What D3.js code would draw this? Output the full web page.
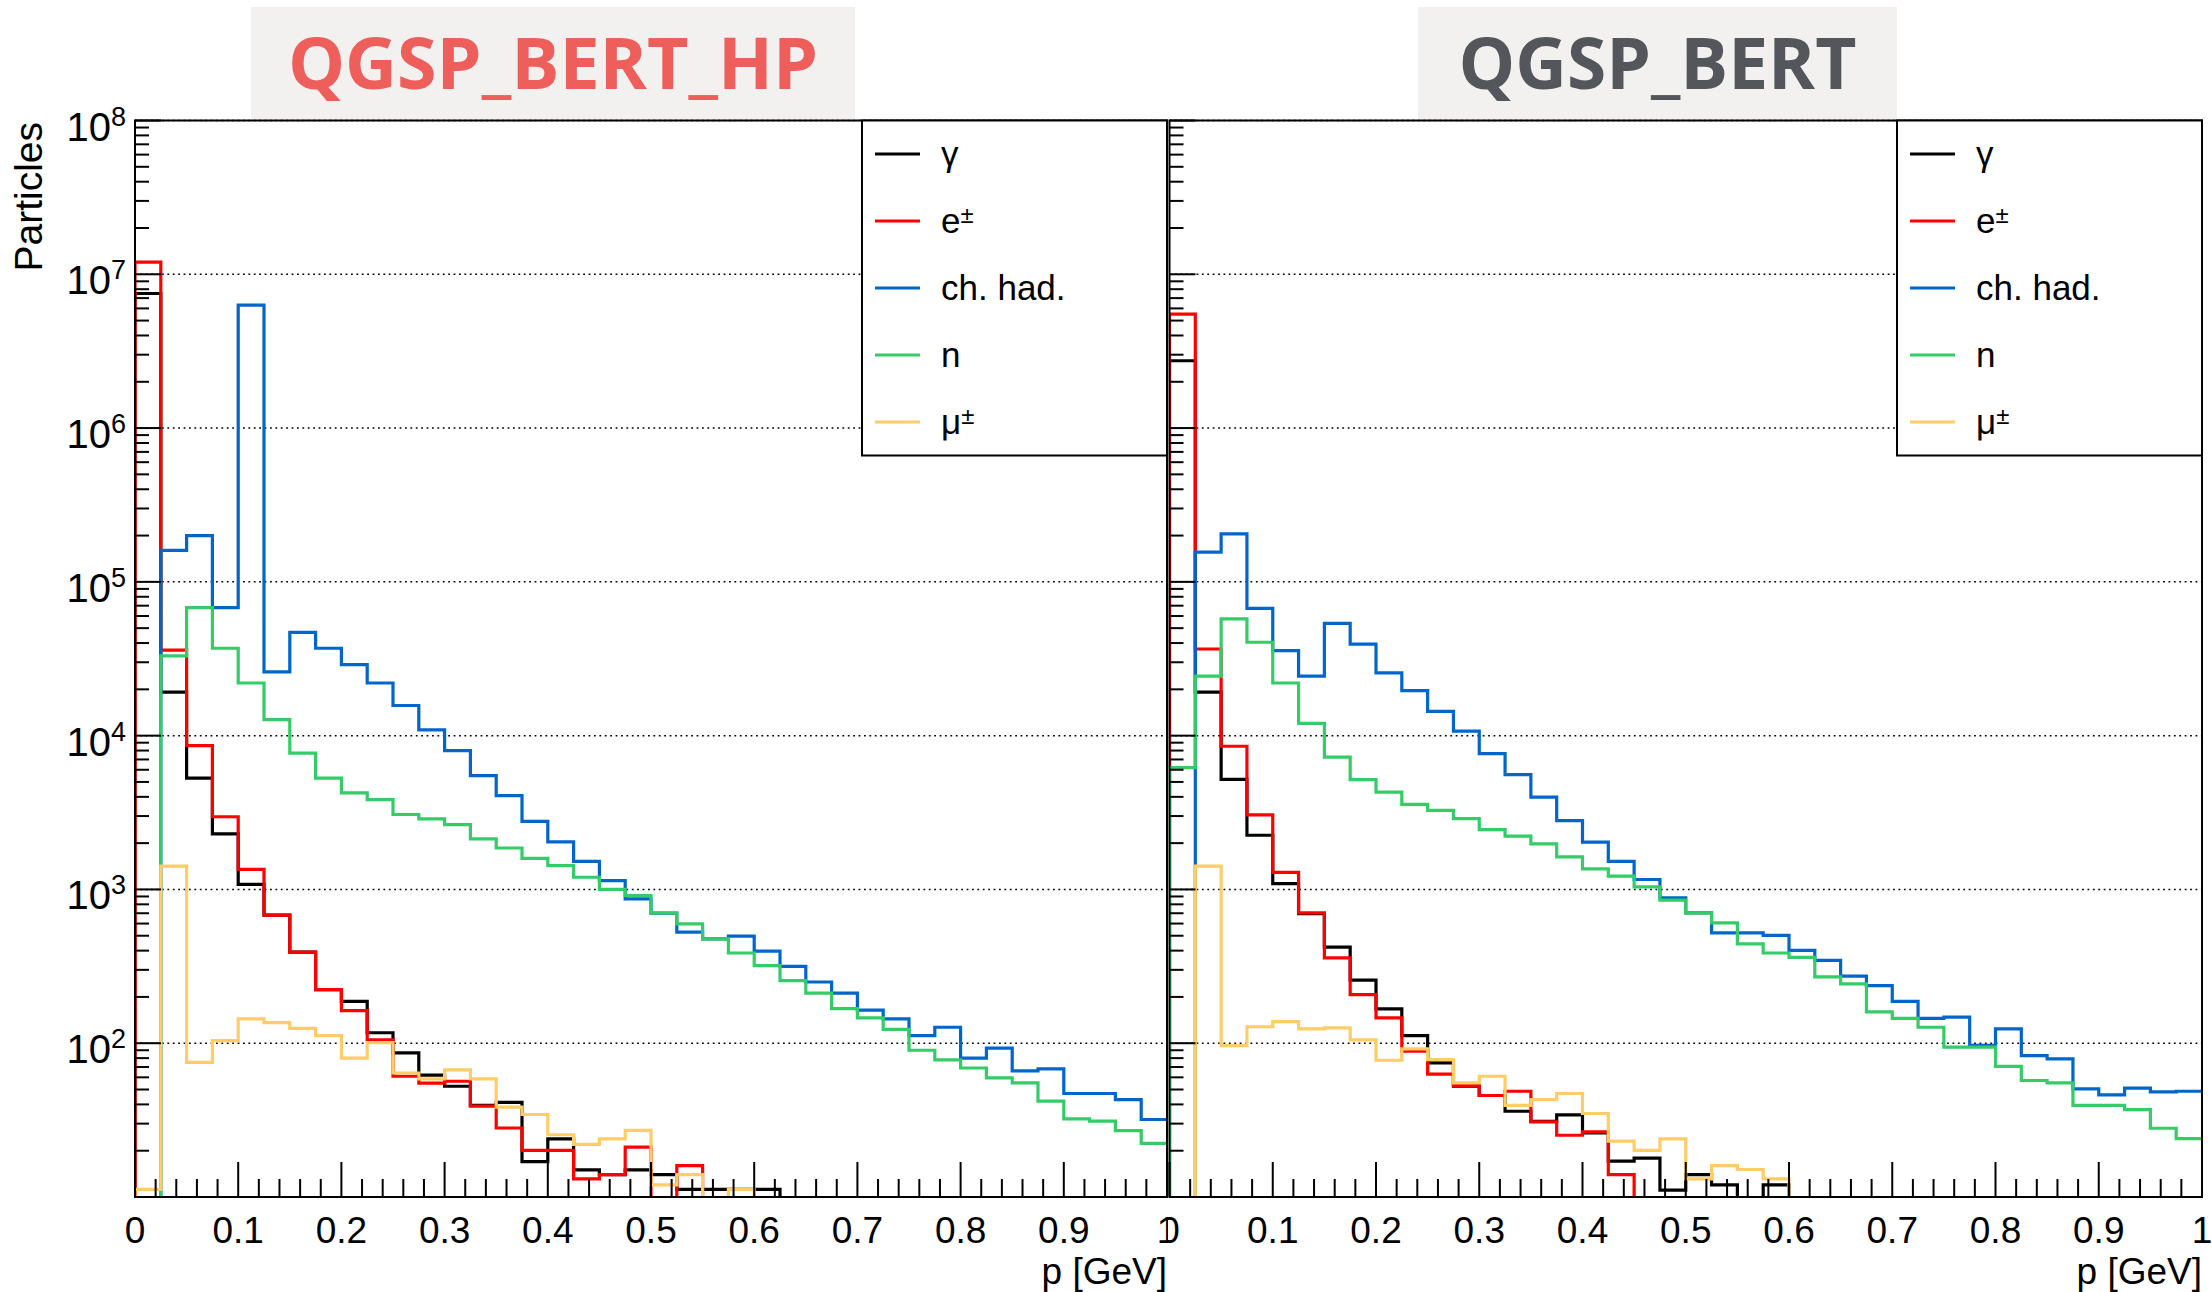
<!DOCTYPE html>
<html>
<head>
<script src="https://d3js.org/d3.v7.min.js"></script>
<style>
  body { margin: 0; background: #fff; }
  svg text { font-family: "Liberation Sans", Arial, Helvetica, sans-serif; }
</style>
</head>
<body>
<div id="container"></div>
<script>
// binning: 40 bins of 0.025 GeV from 0 to 1
var nBins = 40, pMin = 0, pMax = 1;
var yMin = 10, yMax = 1e8;

var legendBase = ["\u03b3", "e", "ch. had.", "n", "\u03bc"];
var legendSup  = ["", "\u00b1", "", "", "\u00b1"];
var seriesColors = ["#000000", "#ff0000", "#0066cc", "#33cc66", "#ffcc66"];

var xTickLabels = ["0", "0.1", "0.2", "0.3", "0.4", "0.5", "0.6", "0.7", "0.8", "0.9", "1"];
var yTickExps = [2, 3, 4, 5, 6, 7, 8];

// QGSP_BERT_HP
var hpGamma = [7.5e6, 1.92e4, 5.3e3, 2.3e3, 1.08e3, 680, 391, 223, 187, 117, 86.5, 62, 52.5, 39.4, 41.3, 17, 23.9, 15, 14, 15,
  14, 11.2, 11.2, 11.2, 11.2, 0, 0, 0, 0, 0, 0, 0, 0, 0, 0, 0, 0, 0, 0, 0];
var hpElectron = [1.2e7, 3.6e4, 8.6e3, 2.97e3, 1.35e3, 680, 391, 223, 163, 105, 61, 55, 56.6, 39, 28.1, 20.1, 20.1, 13.1, 14, 21.1,
  0, 16, 0, 0, 0, 0, 0, 0, 0, 0, 0, 0, 0, 0, 0, 0, 0, 0, 0, 0];
var hpHadron = [0, 1.6e5, 2.0e5, 6.8e4, 6.3e6, 2.6e4, 4.7e4, 3.7e4, 2.9e4, 2.2e4, 1.57e4, 1.09e4, 8.0e3, 5.5e3, 4.07e3, 2.77e3, 2.04e3, 1.52e3, 1.14e3, 868,
  700, 527, 477, 497, 397, 316, 250, 212, 164, 144, 112, 127, 80, 93, 66, 68, 47.1, 47.1, 43, 31.9];
var hpNeutron = [0, 3.3e4, 6.8e4, 3.7e4, 2.2e4, 1.27e4, 7.7e3, 5.3e3, 4.25e3, 3.84e3, 3.07e3, 2.88e3, 2.64e3, 2.13e3, 1.86e3, 1.59e3, 1.43e3, 1.2e3, 1.0e3, 912,
  703, 597, 477, 386, 320, 255, 212, 168, 146, 123, 90, 78, 69, 59.6, 55.2, 42, 32.2, 31.1, 27, 22.3];
var hpMuon = [11.2, 1416, 75, 104, 144, 136, 125, 112, 80, 101, 64, 58.6, 67, 58.6, 38.4, 34.4, 25.4, 22, 23.9, 27.1,
  12, 14, 0, 11.2, 0, 0, 0, 0, 0, 0, 0, 0, 0, 0, 0, 0, 0, 0, 0, 0];

// QGSP_BERT
var bertGamma = [2.74e6, 1.92e4, 5.2e3, 2.25e3, 1.09e3, 697, 421, 257, 167, 112, 74.5, 52.5, 45.7, 36.1, 31, 34.2, 26.1, 17.1, 17.9, 11.1,
  14, 12, 0, 12, 0, 0, 0, 0, 0, 0, 0, 0, 0, 0, 0, 0, 0, 0, 0, 0];
var bertElectron = [5.5e6, 3.66e4, 8.53e3, 3.05e3, 1.29e3, 703, 359, 207, 146, 88.7, 63, 53, 45.7, 48.7, 30.8, 25.2, 26.5, 14, 0, 0,
  0, 0, 0, 0, 0, 0, 0, 0, 0, 0, 0, 0, 0, 0, 0, 0, 0, 0, 0, 0];
var bertHadron = [0, 1.56e5, 2.05e5, 6.73e4, 3.57e4, 2.44e4, 5.37e4, 3.94e4, 2.56e4, 1.96e4, 1.44e4, 1.07e4, 7.64e3, 5.58e3, 3.98e3, 2.8e3, 2.03e3, 1.52e3, 1.16e3, 881,
  703, 522, 522, 503, 402, 346, 273, 237, 187, 145, 148, 97, 124, 83, 79, 50.5, 46.1, 51, 48.3, 48.7];
var bertNeutron = [6.2e3, 2.44e4, 5.75e4, 4.05e4, 2.2e4, 1.2e4, 7.25e3, 5.18e3, 4.29e3, 3.57e3, 3.27e3, 2.89e3, 2.45e3, 2.22e3, 1.98e3, 1.63e3, 1.36e3, 1.22e3, 1.04e3, 851,
  703, 606, 443, 386, 362, 270, 243, 160, 145, 127, 94.3, 94.3, 70.8, 57.2, 55.2, 39.4, 39.4, 37, 28, 24];
var bertMuon = [0, 1416, 96.6, 128, 138, 124, 126, 105, 77.5, 91.9, 78.3, 55.2, 61, 39.4, 43, 47.1, 34.9, 23.1, 20.1, 23.9,
  13.1, 16, 15.1, 13.1, 0, 0, 0, 0, 0, 0, 0, 0, 0, 0, 0, 0, 0, 0, 0, 0];

var W = 2212, H = 1292;
var yTop = 120.5, yBot = 1197;

var panels = [
  { id: "hp", title: "QGSP_BERT_HP", titleColor: "#ee5e5a", x0: 135, x1: 1167, clipX: 0, clipW: 1168,
    box: [251, 855], titleW: 530, legendX: 862, yLabels: true,
    data: [hpGamma, hpElectron, hpHadron, hpNeutron, hpMuon] },
  { id: "bert", title: "QGSP_BERT", titleColor: "#53575c", x0: 1169.5, x1: 2202, clipX: 1168, clipW: 1044,
    box: [1418, 1897], titleW: 398, legendX: 1897, yLabels: false,
    data: [bertGamma, bertElectron, bertHadron, bertNeutron, bertMuon] }
];

var svg = d3.select("#container").append("svg")
    .attr("width", W)
    .attr("height", H);

var defs = svg.append("defs");

var y = d3.scaleLog().domain([yMin, yMax]).range([yBot, yTop]);

panels.forEach(function(p) {
  var x = d3.scaleLinear().domain([pMin, pMax]).range([p.x0, p.x1]);
  var binW = (pMax - pMin) / nBins;

  defs.append("clipPath").attr("id", "clip-" + p.id)
    .append("rect").attr("x", p.clipX).attr("y", 0).attr("width", p.clipW).attr("height", H);
  defs.append("clipPath").attr("id", "frame-" + p.id)
    .append("rect").attr("x", p.x0).attr("y", yTop).attr("width", p.x1 - p.x0).attr("height", yBot - yTop);

  var g = svg.append("g").attr("clip-path", "url(#clip-" + p.id + ")");

  // title box
  g.append("rect")
    .attr("x", p.box[0]).attr("y", 7)
    .attr("width", p.box[1] - p.box[0]).attr("height", 112)
    .attr("fill", "#f2f1f0");
  g.append("text")
    .attr("x", (p.box[0] + p.box[1]) / 2).attr("y", 89)
    .attr("text-anchor", "middle")
    .attr("fill", p.titleColor)
    .style("font-family", "'Open Sans', 'Noto Sans', sans-serif")
    .style("font-weight", 700)
    .style("font-size", "72px")
    .attr("textLength", p.titleW)
    .attr("lengthAdjust", "spacingAndGlyphs")
    .text(p.title);

  // dotted grid at decades
  g.selectAll(".grid").data(yTickExps).enter().append("line")
    .attr("x1", p.x0).attr("x2", p.x1)
    .attr("y1", function(e) { return y(Math.pow(10, e)); })
    .attr("y2", function(e) { return y(Math.pow(10, e)); })
    .attr("stroke", "#000").attr("stroke-width", 1.5)
    .attr("stroke-dasharray", "1.8 3.6");

  // histograms
  var line = d3.line();
  var hg = g.append("g").attr("clip-path", "url(#frame-" + p.id + ")");
  p.data.forEach(function(vals, k) {
    var pts = [[x(pMin), yBot]];
    vals.forEach(function(v, i) {
      var yy = v > yMin ? y(v) : yBot + 1;
      pts.push([x(pMin + i * binW), yy]);
      pts.push([x(pMin + (i + 1) * binW), yy]);
    });
    hg.append("path")
      .attr("d", line(pts))
      .attr("fill", "none")
      .attr("stroke", seriesColors[k])
      .attr("stroke-width", 3.2);
  });

  // frame
  g.append("rect")
    .attr("x", p.x0).attr("y", yTop)
    .attr("width", p.x1 - p.x0).attr("height", yBot - yTop)
    .attr("fill", "none").attr("stroke", "#000").attr("stroke-width", 2);

  // y ticks
  g.selectAll(".yt").data(y.ticks()).enter().append("line")
    .attr("x1", p.x0)
    .attr("x2", function(t) {
      var e = Math.log10(t);
      return p.x0 + (Math.abs(e - Math.round(e)) < 1e-6 ? 26 : 14);
    })
    .attr("y1", function(t) { return y(t); })
    .attr("y2", function(t) { return y(t); })
    .attr("stroke", "#000").attr("stroke-width", 2);

  // x ticks
  g.selectAll(".xt").data(d3.range(0, 51)).enter().append("line")
    .attr("x1", function(i) { return x(i * 0.02); })
    .attr("x2", function(i) { return x(i * 0.02); })
    .attr("y1", yBot)
    .attr("y2", function(i) { return yBot - (i % 5 === 0 ? 35 : 18); })
    .attr("stroke", "#000").attr("stroke-width", 2);

  // x labels
  g.selectAll(".xl").data(xTickLabels).enter().append("text")
    .attr("x", function(d, i) { return x(i * 0.1); })
    .attr("y", 1243)
    .attr("text-anchor", "middle")
    .style("font-size", "37px")
    .text(function(d) { return d; });

  g.append("text")
    .attr("x", p.x1).attr("y", 1284)
    .attr("text-anchor", "end")
    .style("font-size", "37px")
    .text("p [GeV]");

  // y labels
  if (p.yLabels) {
    var yl = g.selectAll(".yl").data(yTickExps).enter().append("text")
      .attr("x", 126)
      .attr("y", function(e) { return y(Math.pow(10, e)) + 20; })
      .attr("text-anchor", "end")
      .style("font-size", "40px");
    yl.append("tspan").text("10");
    yl.append("tspan").attr("dy", -15).style("font-size", "27px")
      .text(function(e) { return e; });

    g.append("text")
      .attr("transform", "translate(42,122) rotate(-90)")
      .attr("text-anchor", "end")
      .style("font-size", "39px")
      .text("Particles");
  }

  // legend
  var lh = 335;
  g.append("rect")
    .attr("x", p.legendX).attr("y", yTop)
    .attr("width", p.x1 - p.legendX).attr("height", lh)
    .attr("fill", "#fff").attr("stroke", "#000").attr("stroke-width", 2);
  var rowH = lh / legendBase.length;
  var items = g.selectAll(".lg").data(legendBase).enter().append("g")
    .attr("transform", function(d, i) { return "translate(" + p.legendX + "," + (yTop + rowH * (i + 0.5)) + ")"; });
  items.append("line")
    .attr("x1", 13).attr("x2", 58).attr("y1", 0).attr("y2", 0)
    .attr("stroke", function(d, i) { return seriesColors[i]; })
    .attr("stroke-width", 3.2);
  var lt = items.append("text")
    .attr("x", 79).attr("y", 12)
    .style("font-size", "35px");
  lt.append("tspan").text(function(d) { return d; });
  lt.append("tspan").attr("dy", -10).style("font-size", "24px")
    .text(function(d, i) { return legendSup[i]; });
});
</script>
</body>
</html>
